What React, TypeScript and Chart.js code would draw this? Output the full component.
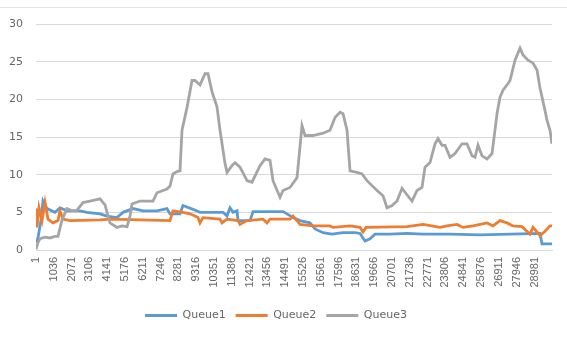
import React, { useEffect, useRef } from "react";
import { Chart, registerables } from "chart.js";

Chart.register(...registerables);

const tickLabels = ["1","1036","2071","3106","4141","5176","6211","7246","8281","9316","10351","11386","12421","13456","14491","15526","16561","17596","18631","19666","20701","21736","22771","23806","24841","25876","26911","27946","28981"];
const yMin = 0;
const yMax = 30;
const yStep = 5;
const xMax = 30000;

const q1X = [1,117,292,408,641,1106,1396,1803,2559,2966,3722,4129,4710,5059,5640,6222,7036,7617,7792,8373,8548,9129,9536,10873,11106,11280,11455,11687,11745,12443,12617,14362,14594,14943,15350,15931,16222,16687,17211,17850,18548,18839,19129,19420,19710,20583,21571,22501,24071,25815,27559,29303,29420,30000];
const q1Y = [1.0,1.6,4.0,6.5,5.5,5.0,5.6,5.2,5.2,5.0,4.8,4.5,4.3,5.0,5.5,5.2,5.2,5.5,4.8,4.8,5.9,5.4,5.0,5.0,4.5,5.6,5.0,5.2,3.9,3.9,5.1,5.1,4.8,4.3,3.9,3.6,2.8,2.3,2.1,2.3,2.3,2.2,1.2,1.5,2.1,2.1,2.2,2.1,2.1,2.0,2.1,2.2,0.8,0.8];

const q2X = [1,59,175,350,524,699,989,1280,1396,1571,1978,3722,4303,6047,7792,7966,8548,8955,9420,9536,9710,10699,10815,11106,11745,11862,12269,13199,13431,13606,14769,14943,15176,15350,16106,17094,17269,18257,18839,19013,19187,21571,22501,23490,23897,24478,24827,25408,26222,26571,26978,27385,27733,28257,28722,28897,29303,29594,29885,30000];
const q2Y = [5.5,3.0,5.6,3.9,6.3,4.1,3.6,3.9,5.2,4.1,3.9,4.0,4.1,4.0,3.9,5.2,5.0,4.8,4.3,3.6,4.3,4.1,3.6,4.1,3.9,3.4,3.9,4.1,3.6,4.1,4.1,4.5,3.9,3.4,3.2,3.2,3.0,3.2,3.0,2.4,3.0,3.1,3.4,3.0,3.2,3.4,3.0,3.2,3.6,3.2,3.9,3.6,3.2,3.1,2.1,3.0,1.9,2.5,3.2,3.2];

const q3X = [1,117,234,524,815,1106,1280,1513,1803,2094,2385,2734,3141,3722,4013,4303,4710,5001,5292,5466,5582,6047,6803,7036,7385,7617,7792,7966,8199,8373,8489,8780,9071,9245,9536,9827,10001,10234,10524,10699,10989,11106,11396,11571,11862,12269,12559,13024,13315,13606,13780,14187,14362,14769,15176,15466,15641,16106,16687,17094,17385,17676,17850,18083,18257,18664,18955,19245,19827,20176,20408,20699,20990,21281,21513,21862,22152,22443,22617,22908,23199,23373,23606,23780,24071,24362,24769,25060,25350,25525,25699,25932,26222,26513,26804,26978,27152,27443,27559,27850,28141,28315,28606,28897,29129,29303,29594,29711,29885,30000];
const q3Y = [0.1,1.0,1.5,1.7,1.6,1.8,1.8,4.0,5.5,5.2,5.3,6.3,6.5,6.8,6.0,3.6,3.0,3.2,3.1,4.5,6.1,6.5,6.5,7.6,7.9,8.1,8.5,10.1,10.4,10.5,15.9,18.9,22.5,22.5,21.9,23.4,23.4,21.0,19.0,15.9,11.5,10.3,11.2,11.6,11.0,9.2,9.0,11.2,12.1,11.9,9.2,7.0,7.9,8.3,9.6,16.5,15.2,15.2,15.5,15.9,17.6,18.3,18.1,15.9,10.5,10.3,10.1,9.2,7.9,7.2,5.6,5.9,6.5,8.2,7.5,6.5,7.9,8.3,11.0,11.6,14.1,14.8,13.9,13.9,12.3,12.8,14.1,14.1,12.5,12.3,13.9,12.5,12.1,12.8,18.1,20.3,21.2,22.1,22.5,25.2,26.8,25.9,25.2,24.8,23.9,21.5,18.5,17.2,15.9,14.1];

const seriesNames = ["Queue1", "Queue2", "Queue3"];
const seriesColors = ["#5B9BD5", "#ED7D31", "#A5A5A5"];

const FONT = "'DejaVu Sans', sans-serif";
const XFONT = "'Liberation Sans', Arial, sans-serif";
const TEXT = "#666666";
const GRID = "#d9d9d9";

function toPoints(xs: number[], ys: number[]) {
  return xs.map((x, i) => ({ x, y: ys[i] }));
}

export default function App() {
  const ref = useRef<HTMLCanvasElement>(null);

  useEffect(() => {
    const canvas = ref.current!;
    const seriesData = [toPoints(q1X, q1Y), toPoints(q2X, q2Y), toPoints(q3X, q3Y)];
    const chart = new Chart(canvas, {
      type: "line",
      data: {
        datasets: seriesNames.map((name, i) => ({
          label: name,
          data: seriesData[i],
          borderColor: seriesColors[i],
          backgroundColor: seriesColors[i],
          borderWidth: 2.8,
          pointRadius: 0,
          tension: 0,
          order: 3 - i,
        })),
      },
      options: {
        animation: false,
        responsive: false,
        maintainAspectRatio: false,
        layout: { padding: { left: 0, right: 15, top: 24, bottom: 6 } },
        plugins: {
          tooltip: { enabled: false },
          legend: {
            position: "bottom",
            labels: {
              boxWidth: 32,
              boxHeight: 3,
              padding: 10,
              color: TEXT,
              font: { size: 11, family: FONT },
              sort: (a: any, b: any) => a.datasetIndex - b.datasetIndex,
              generateLabels: (c: any) =>
                (Chart.defaults.plugins.legend.labels.generateLabels as any)(c).map((l: any) => ({ ...l, lineWidth: 0 })),
            },
          },
        },
        scales: {
          x: {
            type: "linear",
            min: 1,
            max: xMax,
            grid: { display: false, drawTicks: false },
            border: { display: true, color: GRID },
            ticks: {
              autoSkip: false,
              minRotation: 90,
              maxRotation: 90,
              padding: 7,
              color: TEXT,
              font: { size: 11, family: XFONT },
              callback: (v: any) => String(v),
            },
            afterBuildTicks: (s: any) => {
              s.ticks = tickLabels.map((t) => ({ value: Number(t) }));
            },
            afterFit: (s: any) => {
              s.height = 50;
            },
          },
          y: {
            min: yMin,
            max: yMax,
            grid: { color: GRID, drawTicks: false },
            border: { display: false },
            ticks: {
              stepSize: yStep,
              padding: 13,
              color: TEXT,
              font: { size: 11, family: FONT },
            },
            afterFit: (s: any) => {
              s.width = 36;
            },
          },
        },
      },
    } as any);
    return () => chart.destroy();
  }, []);

  return (
    <div style={{ position: "fixed", left: 0, top: 0, width: 567, height: 337, background: "#fff" }}>
      <div style={{ position: "absolute", left: 0, top: 7, width: 567, height: 1, background: "#e4e4e4" }} />
      <canvas ref={ref} width={567} height={337} style={{ position: "absolute", left: 0, top: 0 }} />
    </div>
  );
}
